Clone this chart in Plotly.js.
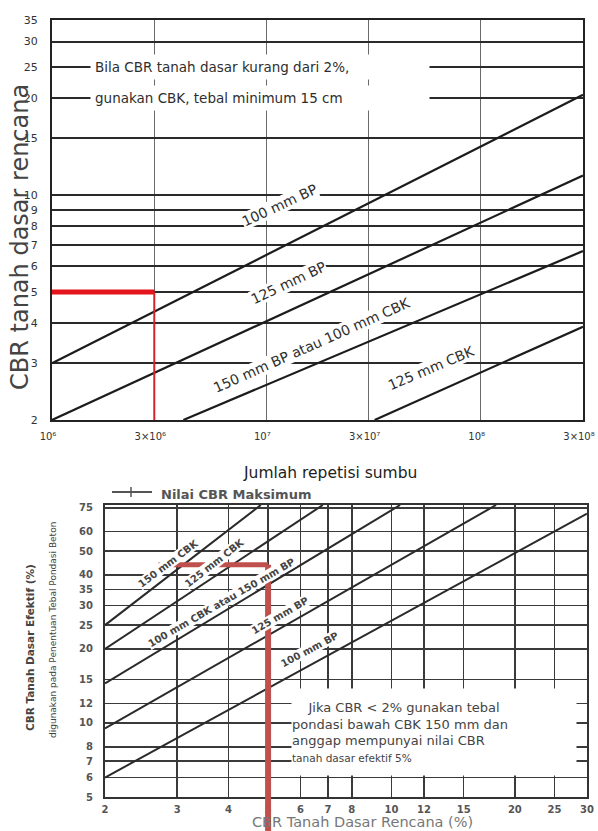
<!DOCTYPE html>
<html><head><meta charset="utf-8">
<script src="https://cdn.plot.ly/plotly-3.0.1.min.js"></script>
<style>html,body{margin:0;padding:0;background:#fff;}</style>
</head><body>
<div id="chart" style="width:598px;height:831px;"></div>
<script>
// ---------------- Top chart data ----------------
const repTickVals = [1e6, 3e6, 1e7, 3e7, 1e8, 3e8];
const repTickText = ["10⁶", "3×10⁶", "10⁷", "3×10⁷", "10⁸", "3×10⁸"];
const cbrTopTicks = [2, 3, 4, 5, 6, 7, 8, 9, 10, 15, 20, 25, 30, 35];
const topLineNames = ["100 mm BP", "125 mm BP", "150 mm BP atau 100 mm CBK", "125 mm CBK"];
const topLineX = [[1e6, 3e8], [1e6, 3e8], [4.1e6, 3e8], [3.2e7, 3e8]];
const topLineY = [[3, 20.5], [2, 11.5], [2, 6.7], [2, 3.9]];
const topRedX = [1e6, 3e6, 3e6];
const topRedY = [5, 5, 2];

// ---------------- Bottom chart data ----------------
const cbrRencanaTicks = [2, 3, 4, 5, 6, 7, 8, 10, 12, 15, 20, 25, 30];
const cbrEfektifTicks = [5, 6, 7, 8, 10, 12, 15, 20, 25, 30, 35, 40, 50, 60, 75];
const botLineNames = ["150 mm CBK", "125 mm CBK", "100 mm CBK atau 150 mm BP", "125 mm BP", "100 mm BP"];
const botLineX = [[2, 4.8], [2, 6.8], [2, 10.5], [2, 18], [2, 30]];
const botLineY = [[25, 77], [20, 77], [14.5, 77], [9.5, 77], [6, 71]];
const botRedX = [2.7, 5, 5];
const botRedY = [44, 44, 5];

const W = 598, H = 831;
const FONT = "DejaVu Sans, Liberation Sans, sans-serif";
const L10 = Math.log10;

const traces = [];
topLineNames.forEach((n, i) => traces.push({
  type: "scatter", mode: "lines", name: n, x: topLineX[i], y: topLineY[i],
  xaxis: "x", yaxis: "y", showlegend: false, hoverinfo: "skip",
  line: {color: "#1c1c1c", width: 2.2}
}));
traces.push({type: "scatter", mode: "lines", x: topRedX.slice(0, 2), y: topRedY.slice(0, 2),
  xaxis: "x", yaxis: "y", showlegend: false, line: {color: "#e3141c", width: 5}});
traces.push({type: "scatter", mode: "lines", x: topRedX.slice(1), y: topRedY.slice(1),
  xaxis: "x", yaxis: "y", showlegend: false, line: {color: "#d8202c", width: 2}});

botLineNames.forEach((n, i) => traces.push({
  type: "scatter", mode: "lines", name: n, x: botLineX[i], y: botLineY[i],
  xaxis: "x2", yaxis: "y2", showlegend: false, hoverinfo: "skip",
  line: {color: "#2a2a2a", width: 2}
}));
traces.push({type: "scatter", mode: "lines", x: botRedX.slice(0, 2), y: botRedY.slice(0, 2),
  xaxis: "x2", yaxis: "y2", showlegend: false, line: {color: "#c0504d", width: 5}});
traces.push({type: "scatter", mode: "lines", x: botRedX.slice(1), y: botRedY.slice(1),
  xaxis: "x2", yaxis: "y2", showlegend: false, line: {color: "#c0504d", width: 6}});

function lbl(text, x, y, ang, size, xr, yr, extra) {
  return Object.assign({text: text, x: x, y: y, xref: xr, yref: yr, showarrow: false,
    xanchor: "center", yanchor: "middle",
    textangle: ang, font: {family: FONT, size: size, color: "#2e2e2e"},
    bgcolor: "#fff", borderpad: 0}, extra || {});
}
const boldGray = {family: FONT, size: 10, color: "#444", weight: "bold"};
const clear = "rgba(0,0,0,0)";

const annotations = [
  // top chart labels
  lbl(topLineNames[0], 7.063, 0.969, -25, 14, "x", "y"),
  lbl(topLineNames[1], 7.101, 0.727, -25, 14, "x", "y"),
  lbl(topLineNames[2], 7.213, 0.534, -24, 14, "x", "y"),
  lbl(topLineNames[3], 7.768, 0.463, -23, 14, "x", "y"),
  lbl("Bila CBR tanah dasar kurang dari 2%,", 6.177, L10(25), 0, 13.5, "x", "y",
      {xanchor: "left", align: "left", width: 330, borderpad: 4}),
  lbl("gunakan CBK, tebal minimum 15 cm", 6.177, L10(20), 0, 13.5, "x", "y",
      {xanchor: "left", align: "left", width: 330, borderpad: 4}),
  // bottom chart labels
  lbl(botLineNames[0], 0.455, 1.650, -37, 10, "x2", "y2", {font: boldGray}),
  lbl(botLineNames[1], 0.569, 1.654, -38, 10, "x2", "y2", {font: boldGray}),
  lbl(botLineNames[2], 0.586, 1.488, -30, 10, "x2", "y2", {font: boldGray}),
  lbl(botLineNames[3], 0.728, 1.439, -30, 10, "x2", "y2", {font: boldGray}),
  lbl(botLineNames[4], 0.801, 1.297, -28, 10, "x2", "y2", {font: boldGray}),
  lbl("\u00a0\u00a0\u00a0\u00a0Jika CBR &lt; 2% gunakan tebal<br>pondasi bawah CBK 150 mm dan<br>anggap mempunyai nilai CBR<br><span style='font-size:10.5px'>tanah dasar efektif 5%</span>",
      1.103, 0.963, 0, 13, "x2", "y2",
      {width: 284, height: 86, align: "left", font: {family: FONT, size: 13, color: "#444"}}),
  // legend of the lower chart
  lbl("Nilai CBR Maksimum", 160 / W, 1 - 494 / H, 0, 13, "paper", "paper",
      {xanchor: "left", font: {family: FONT, size: 13, color: "#555", weight: "bold"}, bgcolor: clear}),
  // axis titles
  lbl("CBR tanah dasar rencana", 20 / W, 1 - 237 / H, -90, 24, "paper", "paper",
      {font: {family: FONT, size: 24, color: "#444"}, bgcolor: clear}),
  lbl("Jumlah repetisi sumbu", 330 / W, 1 - 473 / H, 0, 15, "paper", "paper",
      {font: {family: FONT, size: 15.5, color: "#222"}, bgcolor: clear}),
  lbl("CBR Tanah Dasar Efektif (%)", 30 / W, 1 - 648 / H, -90, 10.5, "paper", "paper",
      {font: {family: FONT, size: 10.5, color: "#444", weight: "bold"}, bgcolor: clear}),
  lbl("digunakan pada Penentuan Tebal Pondasi Beton", 53 / W, 1 - 630 / H, -90, 9, "paper", "paper",
      {font: {family: FONT, size: 9, color: "#444"}, bgcolor: clear}),
  lbl("CBR Tanah Dasar Rencana (%)", 362 / W, 1 - 822 / H, 0, 14.5, "paper", "paper",
      {font: {family: FONT, size: 14.5, color: "#777"}, bgcolor: clear})
];

const shapes = [
  {type: "line", xref: "x2", yref: "y2 domain", x0: botRedX[1], x1: botRedX[1], y0: 0, y1: -0.15,
   line: {color: "#c0504d", width: 6}},
  // legend symbol (line with a cross tick)
  {type: "line", xref: "paper", yref: "paper", x0: 112 / W, x1: 152 / W, y0: 1 - 492 / H, y1: 1 - 492 / H,
   line: {color: "#555", width: 2}},
  {type: "line", xref: "paper", yref: "paper", x0: 131 / W, x1: 131 / W, y0: 1 - 487 / H, y1: 1 - 497 / H,
   line: {color: "#555", width: 1.5}}
];

const layout = {
  width: W, height: H, margin: {l: 0, r: 0, t: 0, b: 0},
  paper_bgcolor: "#fff", plot_bgcolor: "#fff",
  font: {family: FONT, color: "#333"},
  showlegend: false,
  xaxis: {type: "log", domain: [52 / W, 583 / W], range: [6, L10(3e8)], anchor: "y",
    tickvals: repTickVals, ticktext: repTickText, ticks: "", ticklabelstandoff: 6,
    ticklabeloverflow: "allow", ticklabelshift: -4,
    tickfont: {family: FONT, size: 10, color: "#333"},
    showgrid: true, gridcolor: "#6a6a6a", gridwidth: 1, zeroline: false,
    showline: true, mirror: true, linecolor: "#222", linewidth: 2, fixedrange: true},
  yaxis: {type: "log", domain: [(H - 420) / H, (H - 20) / H], range: [L10(2), L10(35)], anchor: "x",
    tickvals: cbrTopTicks, ticktext: cbrTopTicks.map(String), ticks: "", ticklabelstandoff: 10,
    ticklabeloverflow: "allow",
    tickfont: {family: FONT, size: 11, color: "#333"},
    showgrid: true, gridcolor: "#2a2a2a", gridwidth: 2, zeroline: false,
    showline: true, mirror: true, linecolor: "#222", linewidth: 2, fixedrange: true},
  xaxis2: {type: "log", domain: [105 / W, 587 / W], range: [L10(2), L10(30)], anchor: "y2",
    tickvals: cbrRencanaTicks, ticktext: cbrRencanaTicks.map(String), ticks: "", ticklabelstandoff: 2,
    ticklabeloverflow: "allow",
    tickfont: {family: FONT, size: 10, color: "#555", weight: "bold"},
    showgrid: true, gridcolor: "#3a3a3a", gridwidth: 1.6, zeroline: false,
    showline: true, mirror: true, linecolor: "#333", linewidth: 2, fixedrange: true},
  yaxis2: {type: "log", domain: [(H - 797) / H, (H - 505) / H], range: [L10(5), L10(77)], anchor: "x2",
    tickvals: cbrEfektifTicks, ticktext: cbrEfektifTicks.map(String), ticks: "", ticklabelstandoff: 8,
    ticklabeloverflow: "allow",
    tickfont: {family: FONT, size: 10, color: "#555", weight: "bold"},
    showgrid: true, gridcolor: "#3a3a3a", gridwidth: 1.4, zeroline: false,
    showline: true, mirror: true, linecolor: "#333", linewidth: 2, fixedrange: true},
  annotations: annotations,
  shapes: shapes
};

Plotly.newPlot("chart", traces, layout, {displayModeBar: false, staticPlot: true});
</script>
</body></html>
